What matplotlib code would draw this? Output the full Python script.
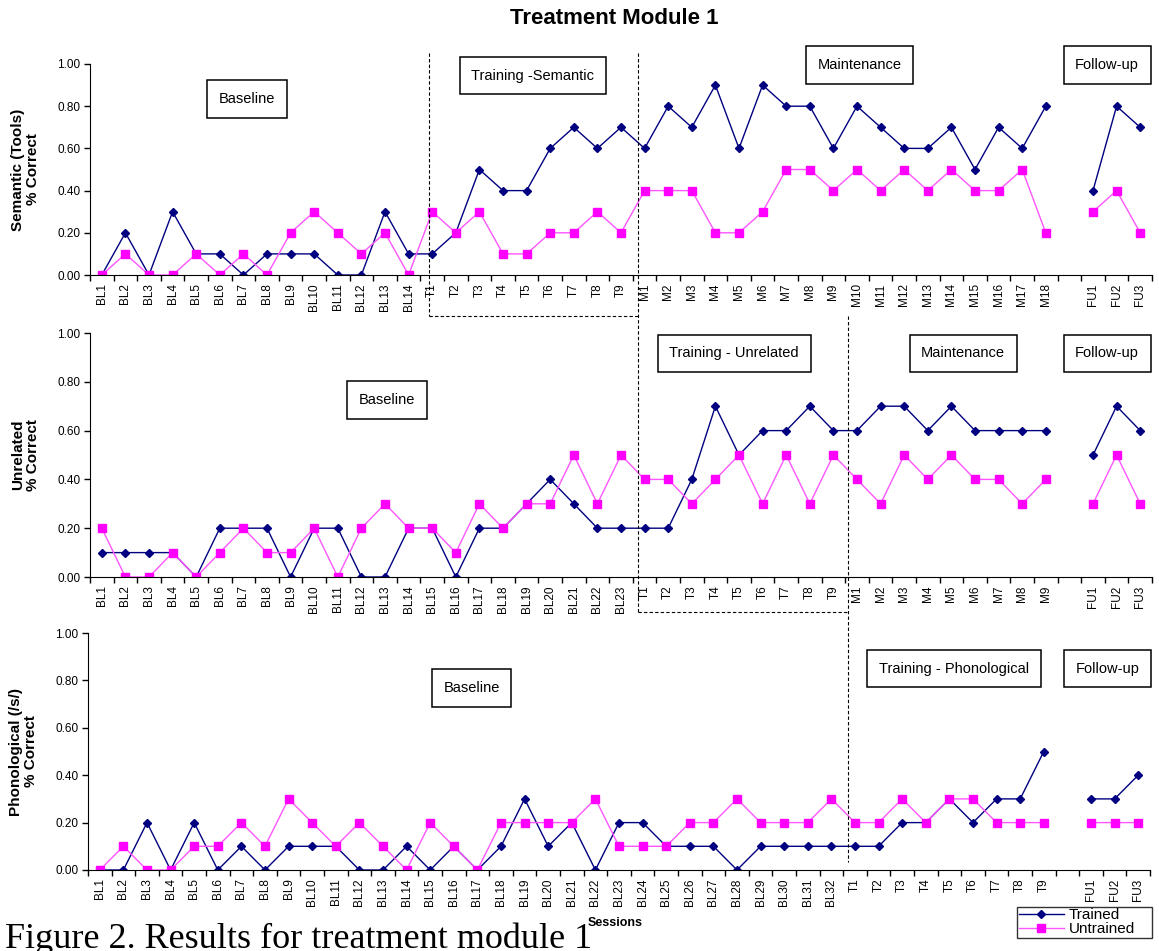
import numpy as np
import matplotlib
matplotlib.use("Agg")
import matplotlib.pyplot as plt
from matplotlib.lines import Line2D
from matplotlib.transforms import blended_transform_factory

plt.rcParams['font.family'] = ['Liberation Sans', 'DejaVu Sans']

gap = np.nan  # empty slot before follow-up

# session labels for each panel
sessions_semantic = ([f"BL{i}" for i in range(1, 15)] + [f"T{i}" for i in range(1, 10)]
                     + [f"M{i}" for i in range(1, 19)] + [""] + ["FU1", "FU2", "FU3"])
sessions_unrelated = ([f"BL{i}" for i in range(1, 24)] + [f"T{i}" for i in range(1, 10)]
                      + [f"M{i}" for i in range(1, 10)] + [""] + ["FU1", "FU2", "FU3"])
sessions_phon = ([f"BL{i}" for i in range(1, 33)] + [f"T{i}" for i in range(1, 10)]
                 + [""] + ["FU1", "FU2", "FU3"])

# Semantic (Tools)
semantic_trained = [0.0, 0.2, 0.0, 0.3, 0.1, 0.1, 0.0, 0.1, 0.1, 0.1, 0.0, 0.0, 0.3, 0.1,
                    0.1, 0.2, 0.5, 0.4, 0.4, 0.6, 0.7, 0.6, 0.7,
                    0.6, 0.8, 0.7, 0.9, 0.6, 0.9, 0.8, 0.8, 0.6, 0.8, 0.7, 0.6, 0.6, 0.7, 0.5, 0.7, 0.6, 0.8,
                    gap, 0.4, 0.8, 0.7]
semantic_untrained = [0.0, 0.1, 0.0, 0.0, 0.1, 0.0, 0.1, 0.0, 0.2, 0.3, 0.2, 0.1, 0.2, 0.0,
                      0.3, 0.2, 0.3, 0.1, 0.1, 0.2, 0.2, 0.3, 0.2,
                      0.4, 0.4, 0.4, 0.2, 0.2, 0.3, 0.5, 0.5, 0.4, 0.5, 0.4, 0.5, 0.4, 0.5, 0.4, 0.4, 0.5, 0.2,
                      gap, 0.3, 0.4, 0.2]

# Unrelated
unrelated_trained = [0.1, 0.1, 0.1, 0.1, 0.0, 0.2, 0.2, 0.2, 0.0, 0.2, 0.2, 0.0, 0.0, 0.2, 0.2, 0.0,
                     0.2, 0.2, 0.3, 0.4, 0.3, 0.2, 0.2,
                     0.2, 0.2, 0.4, 0.7, 0.5, 0.6, 0.6, 0.7, 0.6,
                     0.6, 0.7, 0.7, 0.6, 0.7, 0.6, 0.6, 0.6, 0.6,
                     gap, 0.5, 0.7, 0.6]
unrelated_untrained = [0.2, 0.0, 0.0, 0.1, 0.0, 0.1, 0.2, 0.1, 0.1, 0.2, 0.0, 0.2, 0.3, 0.2, 0.2, 0.1,
                       0.3, 0.2, 0.3, 0.3, 0.5, 0.3, 0.5,
                       0.4, 0.4, 0.3, 0.4, 0.5, 0.3, 0.5, 0.3, 0.5,
                       0.4, 0.3, 0.5, 0.4, 0.5, 0.4, 0.4, 0.3, 0.4,
                       gap, 0.3, 0.5, 0.3]

# Phonological (/s/)
phon_trained = [0.0, 0.0, 0.2, 0.0, 0.2, 0.0, 0.1, 0.0, 0.1, 0.1, 0.1, 0.0, 0.0, 0.1, 0.0, 0.1,
                0.0, 0.1, 0.3, 0.1, 0.2, 0.0, 0.2, 0.2, 0.1, 0.1, 0.1, 0.0, 0.1, 0.1, 0.1, 0.1,
                0.1, 0.1, 0.2, 0.2, 0.3, 0.2, 0.3, 0.3, 0.5,
                gap, 0.3, 0.3, 0.4]
phon_untrained = [0.0, 0.1, 0.0, 0.0, 0.1, 0.1, 0.2, 0.1, 0.3, 0.2, 0.1, 0.2, 0.1, 0.0, 0.2, 0.1,
                  0.0, 0.2, 0.2, 0.2, 0.2, 0.3, 0.1, 0.1, 0.1, 0.2, 0.2, 0.3, 0.2, 0.2, 0.2, 0.3,
                  0.2, 0.2, 0.3, 0.2, 0.3, 0.3, 0.2, 0.2, 0.2,
                  gap, 0.2, 0.2, 0.2]

NAVY = "#000080"
MAGENTA = "#FF00FF"
PINK_LINE = "#FF55FF"

W, H = 1159, 951
fig = plt.figure(figsize=(W / 100, H / 100), dpi=100)


def px_axes(left, right, top, bottom):
    # axes rectangle from pixel edges
    return fig.add_axes([left / W, 1 - bottom / H, (right - left) / W, (bottom - top) / H])


def draw_panel(ax, labels, trained, untrained, ylabel):
    x = np.arange(len(labels))
    ax.plot(x, trained, color=NAVY, lw=1, marker='D', ms=4.5, mec=NAVY, mfc=NAVY)
    ax.plot(x, untrained, color=PINK_LINE, lw=1, marker='s', ms=5.5, mec=MAGENTA, mfc=MAGENTA)
    ax.set_xlim(-0.5, len(labels) - 0.5)
    ax.set_ylim(0, 1)
    ax.spines['top'].set_visible(False)
    ax.spines['right'].set_visible(False)
    ax.set_yticks(np.arange(0, 1.01, 0.2))
    ax.set_yticklabels([f"{v:.2f}" for v in np.arange(0, 1.01, 0.2)], fontsize=8.5)
    ax.tick_params(axis='y', direction='out', length=4, width=1, pad=3)
    ax.set_xticks(x)
    ax.set_xticklabels(labels, rotation=90, fontsize=8.5)
    ax.set_xticks(np.arange(-0.5, len(labels)), minor=True)
    ax.tick_params(axis='x', which='major', length=0, pad=6)
    ax.tick_params(axis='x', which='minor', direction='out', length=4, width=1)
    ax.set_ylabel(ylabel, fontsize=11, fontweight='bold', linespacing=1.1)
    ax.yaxis.set_label_coords(-0.047, 0.5)


def phase_box(ax, x, y, text):
    ax.text(x, y, text, ha='center', va='center', fontsize=10.5,
            bbox=dict(boxstyle='square,pad=0.8', fc='white', ec='black', lw=1.1))


ax1 = px_axes(90, 1152, 64, 275)
ax2 = px_axes(90, 1152, 333, 577)
ax3 = px_axes(88, 1150, 633, 870)

draw_panel(ax1, sessions_semantic, semantic_trained, semantic_untrained, "Semantic (Tools)\n% Correct")
draw_panel(ax2, sessions_unrelated, unrelated_trained, unrelated_untrained, "Unrelated\n% Correct")
draw_panel(ax3, sessions_phon, phon_trained, phon_untrained, "Phonological (/s/)\n% Correct")

# phase boxes
phase_box(ax1, 6.15, 0.834, "Baseline")
phase_box(ax1, 18.27, 0.945, "Training -Semantic")
phase_box(ax1, 32.1, 0.995, "Maintenance")
phase_box(ax1, 42.6, 0.995, "Follow-up")

phase_box(ax2, 12.08, 0.725, "Baseline")
phase_box(ax2, 26.8, 0.916, "Training - Unrelated")
phase_box(ax2, 36.5, 0.916, "Maintenance")
phase_box(ax2, 42.6, 0.916, "Follow-up")

phase_box(ax3, 15.75, 0.768, "Baseline")
phase_box(ax3, 36.2, 0.85, "Training - Phonological")
phase_box(ax3, 42.7, 0.85, "Follow-up")

# phase change lines (hand placed in the source, x in data units, y in figure units)
dash = dict(color='black', lw=0.8, ls=(0, (3, 2)))
t1 = blended_transform_factory(ax1.transData, fig.transFigure)
t2 = blended_transform_factory(ax2.transData, fig.transFigure)
fy = lambda p: 1 - p / H
fig.add_artist(Line2D([13.85, 13.85], [fy(53), fy(316)], transform=t1, **dash))
fig.add_artist(Line2D([13.85, 22.7], [fy(316), fy(316)], transform=t1, **dash))
fig.add_artist(Line2D([22.7, 22.7], [fy(53), fy(612)], transform=t1, **dash))
fig.add_artist(Line2D([22.7, 31.6], [fy(612), fy(612)], transform=t2, **dash))
fig.add_artist(Line2D([31.6, 31.6], [fy(316), fy(862)], transform=t2, **dash))

# title, x label, legend
fig.text(614 / W, fy(18), "Treatment Module 1", ha='center', va='center',
         fontsize=16, fontweight='bold')
fig.text(615 / W, fy(923), "Sessions", ha='center', va='center', fontsize=9, fontweight='bold')

handles = [Line2D([], [], color=NAVY, lw=1, marker='D', ms=4.5),
           Line2D([], [], color=PINK_LINE, lw=1, marker='s', ms=5.5, mec=MAGENTA, mfc=MAGENTA)]
leg = fig.legend(handles, ["Trained", "Untrained"], loc='lower left', mode='expand',
                 bbox_to_anchor=(1017 / W, fy(938), 135 / W, 32 / H), fontsize=11,
                 frameon=True, fancybox=False, edgecolor='black', borderpad=0.1,
                 labelspacing=0.0, handlelength=3.0, handletextpad=0.3, borderaxespad=0)
leg.get_frame().set_linewidth(1)

# caption, cut off by the bottom edge like the source
fig.text(5 / W, fy(922), "Figure 2. Results for treatment module 1", ha='left', va='top',
         fontsize=26, family='Liberation Serif')

fig.savefig("out.png", dpi=100)
